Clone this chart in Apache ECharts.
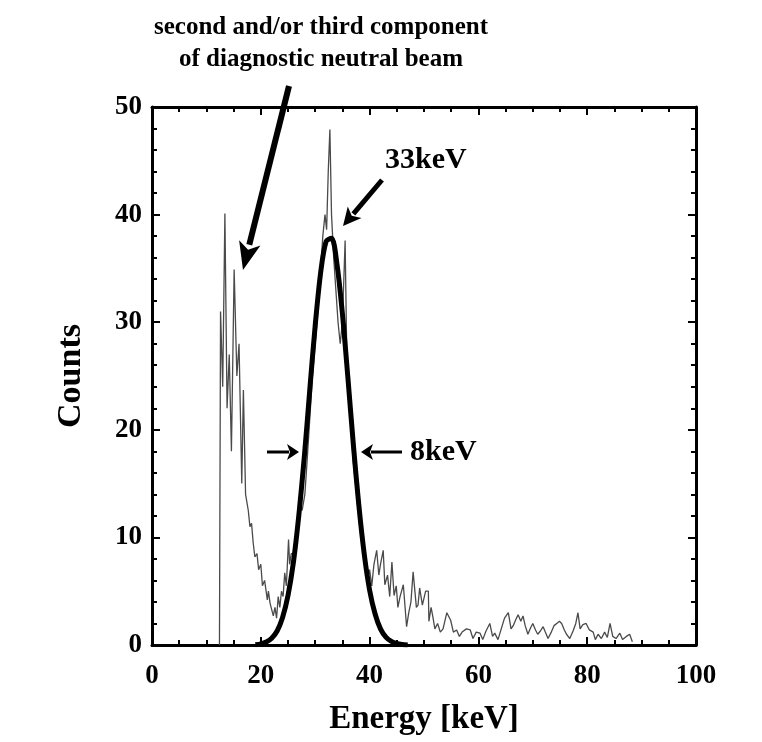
<!DOCTYPE html>
<html>
<head>
<meta charset="utf-8">
<script src="https://cdn.jsdelivr.net/npm/echarts@6/dist/echarts.min.js"></script>
<style>
html,body{margin:0;padding:0;background:#fff;}
#chart{width:762px;height:742px;}
</style>
</head>
<body>
<div id="chart"></div>
<script>
// ---- data ----
var xTicks = [0, 20, 40, 60, 80, 100];
var yTicks = [0, 10, 20, 30, 40, 50];

// measured spectrum (thin line): energy [keV] and counts
var specEnergy = [12.4,12.6,13.0,13.4,13.8,14.2,14.6,15.1,15.6,16.0,16.5,16.8,17.2,17.7,18.0,18.3,18.6,18.9,19.3,19.6,20.0,20.3,20.7,21.2,21.4,21.7,22.0,22.3,22.6,22.9,23.2,23.5,23.8,24.1,24.4,24.7,25.1,25.3,25.6,26.0,26.4,26.8,27.2,27.6,28.1,28.5,29.0,29.5,30.0,30.5,31.0,31.4,31.8,32.1,32.4,32.7,33.0,33.4,33.8,34.2,34.6,35.0,35.5,35.8,36.2,36.6,37.0,37.4,37.8,38.2,38.8,39.2,39.6,40.0,40.4,40.8,41.3,41.7,42.0,42.5,42.8,43.3,43.7,44.1,44.5,44.9,45.2,45.6,46.2,46.8,47.2,47.6,48.0,48.6,48.9,49.2,49.7,50.3,50.8,50.9,51.3,51.6,52.0,52.5,53.0,53.5,54.2,54.9,55.4,56.0,56.5,57.0,57.8,58.5,59.0,59.6,60.3,60.8,61.4,62.1,62.6,63.0,63.6,64.2,64.8,65.5,66.0,66.4,66.9,67.3,67.8,68.2,68.6,69.1,69.6,70.0,70.5,70.9,71.4,71.9,72.3,72.8,73.4,73.9,74.4,74.9,75.3,75.8,76.2,76.8,77.4,77.9,78.3,78.7,79.2,79.8,80.4,81.1,81.5,82.0,82.6,83.2,83.7,84.2,84.7,85.3,86.0,86.5,87.2,87.8,88.3];
var specCounts = [0,31,24,40.1,22,27,18,34.9,25,28,15,23.7,14,12.5,11,11.3,9.5,8.2,8.5,7,7.5,5.5,6,4.2,5,3.9,4,2.7,3.5,2.5,4.5,3.5,5,4.5,6.7,5.5,9.8,7.5,8.5,8.5,10,11,13,12.5,14,17,21,25,28,31,35,38,40,38.6,44,47.9,40,36,33,30,28,30,37.6,27,24,20,17,15,13,11,8.8,7.3,6,7,5.5,7.5,8.8,6.5,7.5,8.8,5.6,6.5,4.5,7.7,4.6,5.5,3.5,4.5,5.6,1.7,3,4,6.8,3.5,3.7,5.3,3.7,5,5,2.2,3.5,2.7,1.5,2,1.2,1.5,3,2.3,1.2,1.4,0.8,1.2,1.5,1.4,0.6,1.2,1.1,0.5,1.3,2.0,0.8,1.1,0.5,1.5,2.5,3.0,1.5,1.8,2.4,2.8,2.2,2.7,1.8,1.0,1.6,2.0,1.4,1.0,1.3,1.7,1.2,0.6,1.2,1.8,2.0,2.2,2.0,1.4,1.0,0.6,1.3,2.0,3.0,1.5,1.9,2.0,1.4,1.2,0.5,1.0,0.6,1.2,0.7,2.0,0.8,0.6,1.1,0.5,0.8,1.0,0.3];

// fitted curve (thick line), read at 1 keV steps
var fitEnergy = [19,20,21,22,23,24,25,26,27,28,29,30,31,32,33,34,35,36,37,38,39,40,41,42,43,44,45,46,47];
var fitCounts = [0.03,0.11,0.28,0.63,1.3,2.55,4.6,7.7,12.1,17.5,23.7,29.7,34.6,37.5,37.8,35.4,30.8,24.9,18.7,13.1,8.5,5.1,2.9,1.5,0.73,0.33,0.14,0.05,0.0];

var xAxisName = 'Energy [keV]';
var yAxisName = 'Counts';
var noteLine1 = 'second and/or third component';
var noteLine2 = 'of diagnostic neutral beam';
var peakLabel = '33keV';
var widthLabel = '8keV';

// ---- chart ----
var FONT = '"Liberation Serif", "Times New Roman", serif';
function pairs(xs, ys){ var out=[]; for(var i=0;i<xs.length;i++) out.push([xs[i], ys[i]]); return out; }

var axisCommon = {
  axisLine:{show:true, onZero:false, lineStyle:{color:'#000', width:3}},
  axisTick:{show:true, inside:true, length:8, lineStyle:{color:'#000', width:2}},
  splitLine:{show:false},
  minorSplitLine:{show:false}
};
function merge(a,b){ var o={}; for(var k in a) o[k]=a[k]; for(var k2 in b) o[k2]=b[k2]; return o; }

var chart = echarts.init(document.getElementById('chart'), null, {renderer:'canvas'});

var option = {
  animation:false,
  backgroundColor:'#fff',
  grid:{left:152, right:66, top:107, bottom:97, containLabel:false},
  xAxis:[
    merge(axisCommon, {type:'value', position:'bottom', min:xTicks[0], max:xTicks[xTicks.length-1], interval:xTicks[1]-xTicks[0],
      minorTick:{show:true, splitNumber:4, length:5, lineStyle:{color:'#000', width:2}},
      axisLabel:{show:true, margin:18, color:'#000', fontFamily:FONT, fontWeight:'bold', fontSize:27},
      name:xAxisName, nameLocation:'middle', nameGap:58,
      nameTextStyle:{color:'#000', fontFamily:FONT, fontWeight:'bold', fontSize:33}}),
    merge(axisCommon, {type:'value', position:'top', min:xTicks[0], max:xTicks[xTicks.length-1], interval:xTicks[1]-xTicks[0],
      minorTick:{show:true, splitNumber:4, length:5, lineStyle:{color:'#000', width:2}},
      axisLabel:{show:false}})
  ],
  yAxis:[
    merge(axisCommon, {type:'value', position:'left', min:yTicks[0], max:yTicks[yTicks.length-1], interval:yTicks[1]-yTicks[0],
      minorTick:{show:true, splitNumber:5, length:5, lineStyle:{color:'#000', width:2}},
      axisLabel:{show:true, margin:10, color:'#000', fontFamily:FONT, fontWeight:'bold', fontSize:27},
      name:yAxisName, nameLocation:'middle', nameGap:64, nameRotate:90,
      nameTextStyle:{color:'#000', fontFamily:FONT, fontWeight:'bold', fontSize:34}}),
    merge(axisCommon, {type:'value', position:'right', min:yTicks[0], max:yTicks[yTicks.length-1], interval:yTicks[1]-yTicks[0],
      minorTick:{show:true, splitNumber:5, length:5, lineStyle:{color:'#000', width:2}},
      axisLabel:{show:false}})
  ],
  series:[
    {type:'line', name:'spectrum', data:pairs(specEnergy, specCounts), showSymbol:false, symbol:'none',
      lineStyle:{color:'#4a4a4a', width:1.3}, z:2, clip:true},
    {type:'line', name:'fit', data:pairs(fitEnergy, fitCounts), showSymbol:false, symbol:'none', smooth:0.3,
      lineStyle:{color:'#000', width:5}, z:3, clip:true}
  ]
};
chart.setOption(option);

// ---- annotations (pixel layout) ----
function arrow(x1,y1,x2,y2,w,hl,hw){
  var dx=x2-x1, dy=y2-y1, L=Math.sqrt(dx*dx+dy*dy), ux=dx/L, uy=dy/L, px=-uy, py=ux;
  var bx=x2-ux*hl, by=y2-uy*hl;
  return [
    {type:'line', shape:{x1:x1,y1:y1,x2:bx+ux*2,y2:by+uy*2}, style:{stroke:'#000', lineWidth:w}, z:10},
    {type:'polygon', shape:{points:[[x2,y2],[bx+px*hw,by+py*hw],[bx+ux*hl*0.25,by+uy*hl*0.25],[bx-px*hw,by-py*hw]]}, style:{fill:'#000'}, z:10}
  ];
}
var g = [];
g.push({type:'text', x:321, y:28, style:{text:noteLine1, fill:'#000', font:'bold 25px '+FONT, textAlign:'center', textVerticalAlign:'middle'}, z:10});
g.push({type:'text', x:321, y:60, style:{text:noteLine2, fill:'#000', font:'bold 25px '+FONT, textAlign:'center', textVerticalAlign:'middle'}, z:10});
g.push({type:'text', x:385, y:160, style:{text:peakLabel, fill:'#000', font:'bold 30px '+FONT, textAlign:'left', textVerticalAlign:'middle'}, z:10});
g.push({type:'text', x:410, y:452, style:{text:widthLabel, fill:'#000', font:'bold 30px '+FONT, textAlign:'left', textVerticalAlign:'middle'}, z:10});
g = g.concat(arrow(289,86,243,270,6,28,11));
g = g.concat(arrow(382,180,343,226,5,18,9));
g = g.concat(arrow(267,452,299,452,3,12,8));
g = g.concat(arrow(402,452,361,452,3,12,8));
chart.setOption({graphic:{elements:g}});
</script>
</body>
</html>
